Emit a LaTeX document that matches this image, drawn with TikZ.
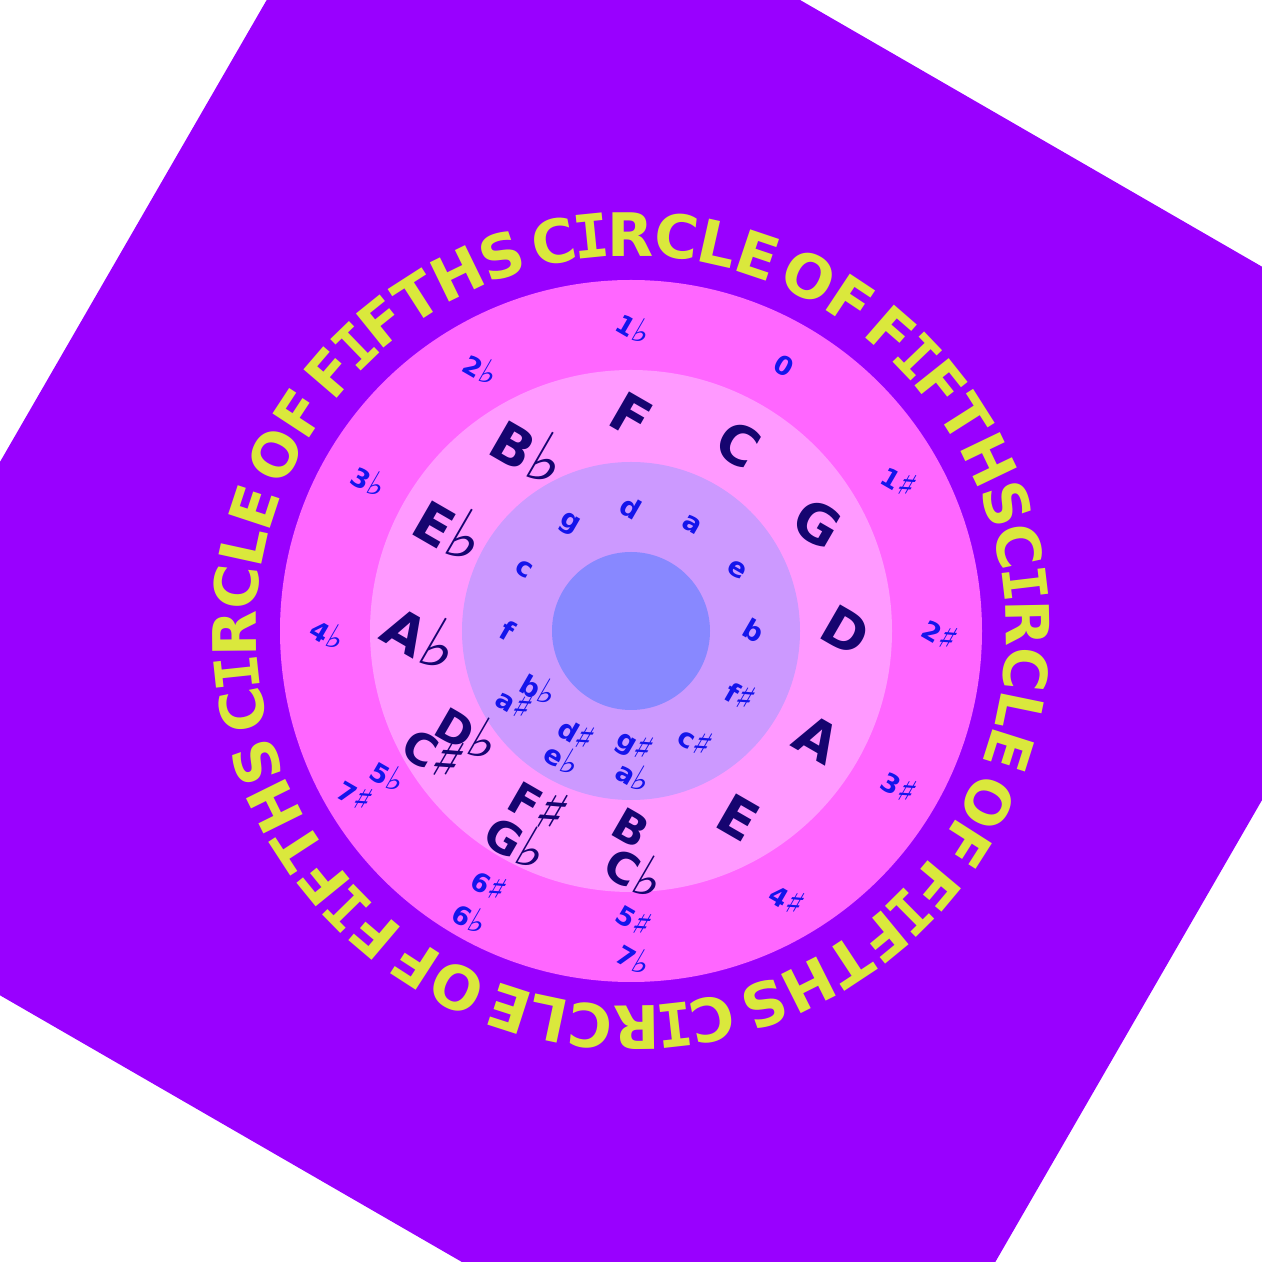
\documentclass[tikz,border=0pt]{standalone}
\usepackage{fontspec}
\usepackage{graphicx}
\newfontfamily\circfont{DejaVu Sans Mono}
\newfontfamily\labfont{DejaVu Sans}
\newcommand\flt{\makebox[0.5\width][l]{\mdseries\scalebox{1.3}{♭}}}
\newcommand\shp{\makebox[0.5\width][l]{\mdseries\scalebox{1.3}{♯}}}
\newcommand\serifI{{\circfont\bfseries I}}
\definecolor{bgpurple}{RGB}{153,0,255}
\definecolor{ringa}{RGB}{255,102,255}
\definecolor{ringb}{RGB}{255,153,255}
\definecolor{ringc}{RGB}{204,153,255}
\definecolor{ringd}{RGB}{136,136,255}
\definecolor{titleyellow}{RGB}{218,232,60}
\definecolor{majcol}{RGB}{22,4,112}
\definecolor{mincol}{RGB}{20,20,235}
\begin{document}
\begin{tikzpicture}[x=1pt,y=1pt,
  titlechar/.style={inner sep=0pt, anchor=base, text=titleyellow, font=\labfont\bfseries\fontsize{60}{60}\selectfont},
  majsingle/.style={inner sep=0pt, rotate=-30, text=majcol, font=\labfont\bfseries\fontsize{54}{54}\selectfont},
  majpair/.style={inner sep=0pt, rotate=-30, text=majcol, font=\labfont\bfseries\fontsize{44}{44}\selectfont},
  minlab/.style={inner sep=0pt, rotate=-30, text=mincol, font=\labfont\bfseries\fontsize{27}{27}\selectfont},
  siglab/.style={inner sep=0pt, rotate=-30, text=mincol, font=\labfont\bfseries\fontsize{26}{26}\selectfont},
]
\useasboundingbox (0,0) rectangle (1262,1262);
\clip (0,0) rectangle (1262,1262);
\fill[white] (0,0) rectangle (1262,1262);
\coordinate (O) at (631,631);
\fill[bgpurple, rotate around={-30:(O)}] (0,0) rectangle (1262,1262);
\fill[ringa] (O) circle[radius=351];
\fill[ringb] (O) circle[radius=261];
\fill[ringc] (O) circle[radius=169];
\fill[ringd] (O) circle[radius=79];
% title ring: glyph centres in em along the repeat, 8.907 deg per em, repeat period 10.142 em
\foreach \j in {0,...,3} {
  \foreach \ch/\c/\m in {C/0.366/0,\serifI/0.982/1,R/1.617/2,C/2.368/3,L/3.0525/4,E/3.7125/5,O/4.629/6,F/5.3955/7,F/6.2285/8,\serifI/6.820/9,F/7.4115/10,T/8.094/11,H/8.8535/12,S/9.632/13} {
    \pgfmathsetmacro\ang{15.5-(\j*10.142+\c)*8.907}
    \node[titlechar, rotate=\ang-90] (t\j-\m) at ([shift={(\ang:375)}]O) {\ch};
  }
}
% major keys
\foreach \i/\t in {0/C,1/G,2/D,3/A,4/E,8/A\flt,9/E\flt,10/B\flt,11/F} {
  \node[majsingle] (maj\i) at ([shift={({60-30*\i}:215)}]O) {\t};
}
\node[majpair] (maj5a) at ([shift={(-90:197)}]O) {B};
\node[majpair] (maj5b) at ([shift={(-90:236)}]O) {C\flt};
\node[majpair] (maj6a) at ([shift={(-120:195)}]O) {F\shp};
\node[majpair] (maj6b) at ([shift={(-120:238)}]O) {G\flt};
\node[majpair] (maj7a) at ([shift={(-150:193)}]O) {D\flt};
\node[majpair] (maj7b) at ([shift={(-150:234)}]O) {C\shp};
% key signatures
\foreach \i/\t in {0/0,1/1\shp,2/2\shp,3/3\shp,4/4\shp,8/4\flt,9/3\flt,10/2\flt,11/1\flt} {
  \node[siglab] (sig\i) at ([shift={({60-30*\i}:306)}]O) {\t};
}
\node[siglab] (sig5a) at ([shift={(-90:286)}]O) {5\shp};
\node[siglab] (sig5b) at ([shift={(-90:325)}]O) {7\flt};
\node[siglab] (sig6a) at ([shift={(-120:290)}]O) {6\shp};
\node[siglab] (sig6b) at ([shift={(-120:328)}]O) {6\flt};
\node[siglab] (sig7a) at ([shift={(-150:284)}]O) {5\flt};
\node[siglab] (sig7b) at ([shift={(-150:322)}]O) {7\shp};
% minor keys
\foreach \i/\t in {0/a,1/e,2/b,3/f\shp,4/c\shp,8/f,9/c,10/g,11/d} {
  \node[minlab] (min\i) at ([shift={({60-30*\i}:123)}]O) {\t};
}
\node[minlab] (min5a) at ([shift={(-90:112)}]O) {g\shp};
\node[minlab] (min5b) at ([shift={(-90:142)}]O) {a\flt};
\node[minlab] (min6a) at ([shift={(-120:115)}]O) {d\shp};
\node[minlab] (min6b) at ([shift={(-120:144)}]O) {e\flt};
\node[minlab] (min7a) at ([shift={(-150:110)}]O) {b\flt};
\node[minlab] (min7b) at ([shift={(-150:138)}]O) {a\shp};
\end{tikzpicture}
\end{document}
